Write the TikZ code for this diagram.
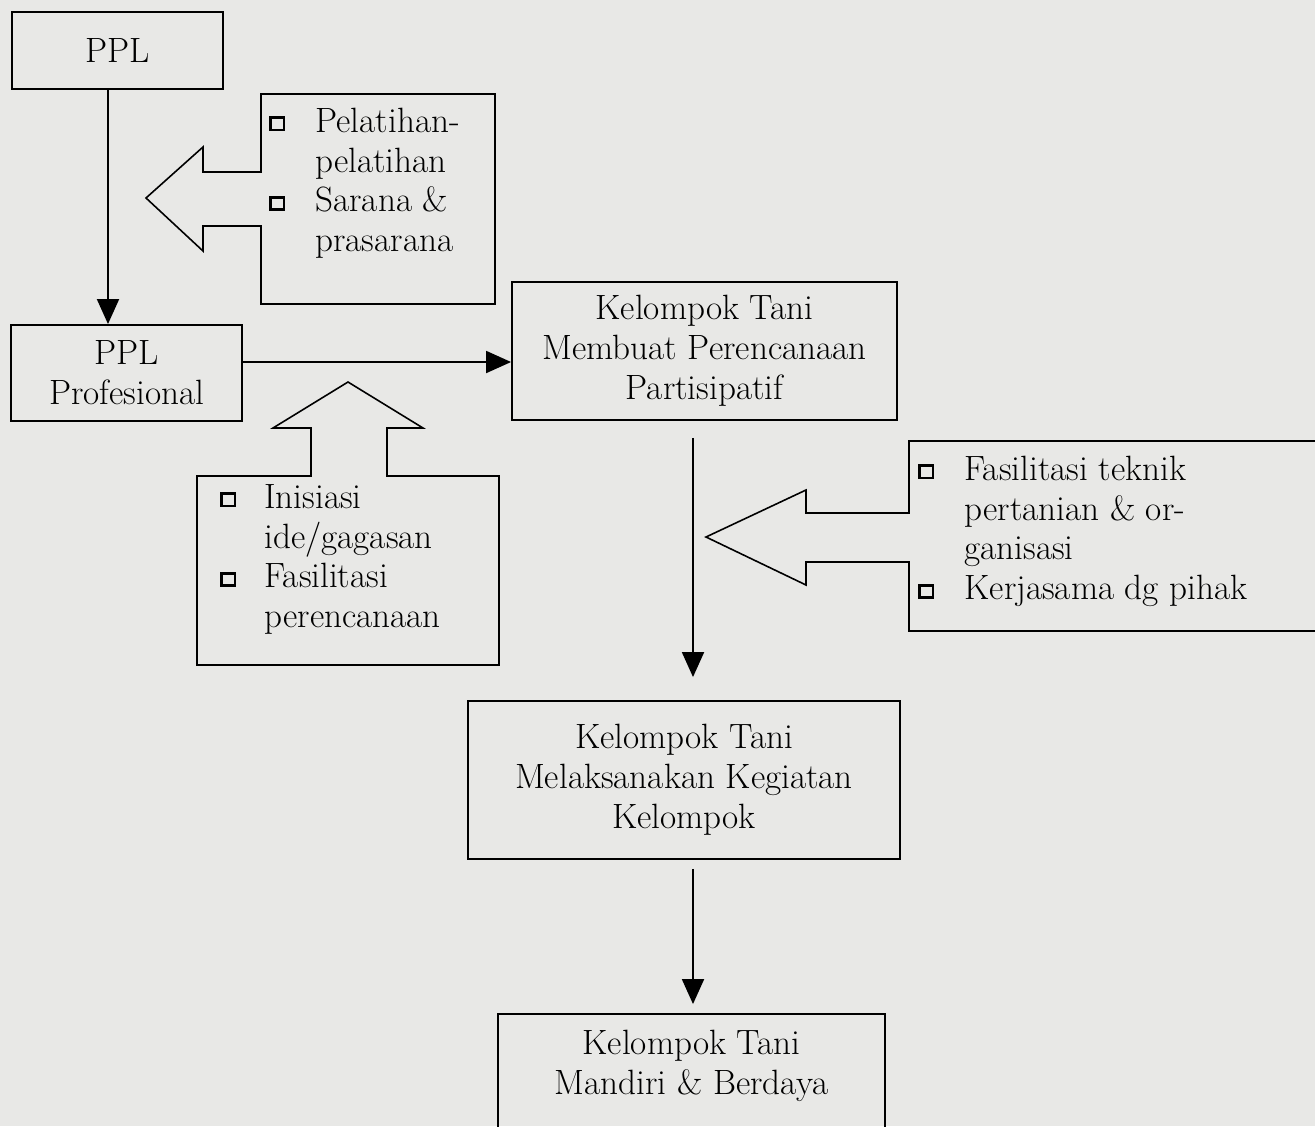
\documentclass[tikz,border=0pt]{standalone}
\usepackage{tikz}
\usetikzlibrary{positioning,arrows.meta}
\definecolor{paper}{RGB}{232,232,230}
\newcommand{\chk}{\raisebox{0.1em}{\fboxsep=0pt\fboxrule=1.6pt\fbox{\rule{0pt}{0.19cm}\hspace{0.21cm}}}}

\begin{document}
\begin{tikzpicture}[x=0.02cm, y=-0.02cm,
  box/.style={draw, line width=1.1pt, align=center, inner sep=0pt, font=\fontsize{20}{22.7}\selectfont},
  list/.style={anchor=west, inner sep=0pt, font=\fontsize{20}{22.7}\selectfont},
  flow/.style={line width=1.1pt, -{Triangle[width=0.44cm,length=0.5cm]}},
  block/.style={line width=0.9pt, line join=miter}]
% page
\fill[paper] (0,0) rectangle (1315,1126);
\useasboundingbox (0,0) rectangle (1315,1126);
\clip (0,0) rectangle (1315,1126);
% main boxes
\node[box, minimum width=4.22cm, minimum height=1.54cm] (ppl) at (117.5,50.5) {PPL};
\node[box, minimum width=4.62cm, minimum height=1.92cm] (pplpro) at (126.5,373) {PPL\\Profesional};
\node[box, minimum width=7.7cm, minimum height=2.76cm] (plan) at (704.5,351) {Kelompok Tani\\Membuat Perencanaan\\Partisipatif};
\node[box, minimum width=8.64cm, minimum height=3.16cm] (act) at (684,780) {Kelompok Tani\\Melaksanakan Kegiatan\\Kelompok};
\node[box, draw=none, minimum width=7.7cm, minimum height=2.04cm] (free) at (691.5,1066) {Kelompok Tani\\Mandiri \& Berdaya};
\draw[line width=1.1pt] ([yshift=-1cm]free.south west) -- (free.north west) -- (free.north east) -- ([yshift=-1cm]free.south east);
% support boxes with block arrows
\draw[block] (261,94) -- (495,94) -- (495,304) -- (261,304) -- (261,226) -- (203,226) -- (203,251)
  -- (146,198) -- (203,147) -- (203,172) -- (261,172) -- cycle;
\node[list] (train) at (269,184) {\begin{tabular}{@{}l@{\hspace{0.6cm}}l@{}}
  \chk & Pelatihan-\\ & pelatihan\\ \chk & Sarana \&\\ & prasarana\end{tabular}};
\draw[block] (197,476) -- (311,476) -- (311,428) -- (273,428) -- (348,382) -- (423,428) -- (387,428)
  -- (387,476) -- (499,476) -- (499,665) -- (197,665) -- cycle;
\node[list] (idea) at (220,560) {\begin{tabular}{@{}l@{\hspace{0.56cm}}l@{}}
  \chk & Inisiasi\\ & ide/gagasan\\ \chk & Fasilitasi\\ & perencanaan\end{tabular}};
\draw[block] (1330,441) -- (909,441) -- (909,513) -- (806,513) -- (806,490) -- (706,537) -- (806,585)
  -- (806,562) -- (909,562) -- (909,631) -- (1330,631);
\node[list] (support) at (918,532) {\begin{tabular}{@{}l@{\hspace{0.6cm}}l@{}}
  \chk & Fasilitasi teknik\\ & pertanian \& or-\\ & ganisasi\\ \chk & Kerjasama dg pihak\end{tabular}};
% flow arrows
\draw[flow] ([xshift=-0.19cm]ppl.south) -- ([xshift=-0.19cm]ppl.south |- pplpro.north);
\draw[flow] ([yshift=0.22cm]pplpro.east) -- ([yshift=0.22cm]pplpro.east -| plan.west);
\draw[flow, shorten <=0.34cm, shorten >=0.46cm] ([xshift=-0.23cm]plan.south) -- ([xshift=-0.23cm]plan.south |- act.north);
\draw[flow, shorten <=0.18cm, shorten >=0.2cm] ([xshift=0.18cm]act.south) -- ([xshift=0.18cm]act.south |- free.north);
\end{tikzpicture}
\end{document}
